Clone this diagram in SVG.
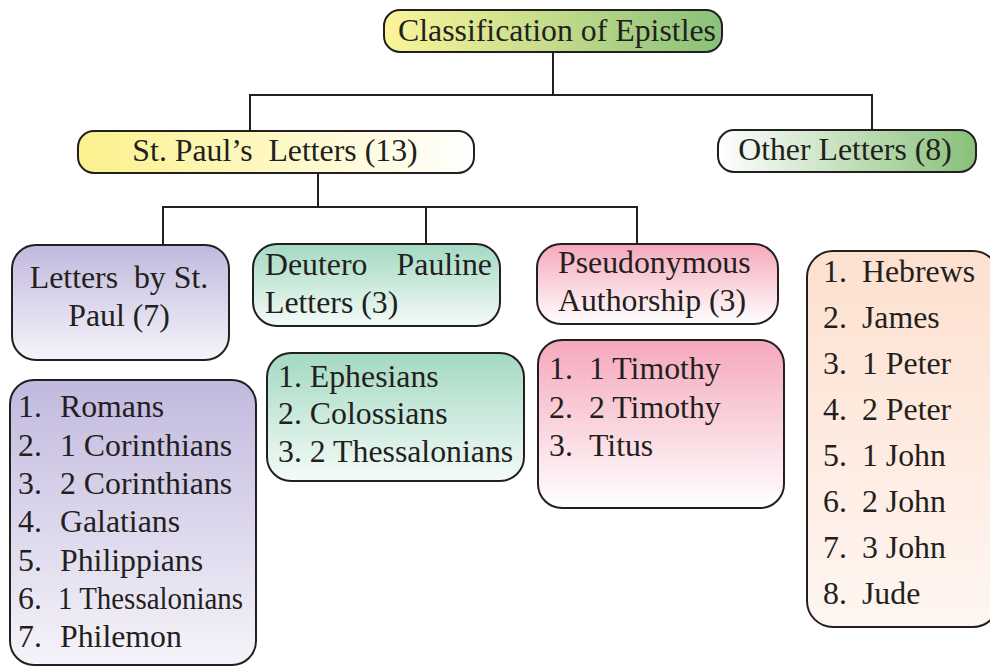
<svg xmlns="http://www.w3.org/2000/svg" width="990" height="667" viewBox="0 0 990 667">
<style>
.box{stroke:#231f20;stroke-width:2}
.t{font-family:"Liberation Serif","Times New Roman",serif;font-size:31.8px;fill:#231f20}
.c{text-anchor:middle}
.e{text-anchor:end}
.conn line{stroke:#231f20;stroke-width:2}
</style>
<defs>
<linearGradient id="gTitle" x1="0" y1="0" x2="1" y2="0"><stop offset="0" stop-color="#fcf59a"/><stop offset="1" stop-color="#89c17a"/></linearGradient>
<linearGradient id="gPaul" x1="0" y1="0" x2="1" y2="0"><stop offset="0" stop-color="#fbf18c"/><stop offset="1" stop-color="#ffffff"/></linearGradient>
<linearGradient id="gOther" x1="0" y1="0" x2="1" y2="0"><stop offset="0" stop-color="#ffffff"/><stop offset="1" stop-color="#88c079"/></linearGradient>
<linearGradient id="gLav" x1="0" y1="0" x2="0" y2="1"><stop offset="0" stop-color="#c1b9de"/><stop offset="1" stop-color="#f6f4fa"/></linearGradient>
<linearGradient id="gGreen" x1="0" y1="0" x2="0" y2="1"><stop offset="0" stop-color="#a3d9c2"/><stop offset="1" stop-color="#f4fbf8"/></linearGradient>
<linearGradient id="gPink" x1="0" y1="0" x2="0" y2="1"><stop offset="0" stop-color="#f5a8bb"/><stop offset="1" stop-color="#ffffff"/></linearGradient>
<linearGradient id="gPeach" x1="0" y1="0" x2="0" y2="1"><stop offset="0" stop-color="#fde0cf"/><stop offset="1" stop-color="#fff6f1"/></linearGradient>
</defs>
<rect width="990" height="667" fill="#ffffff"/>
<g class="conn" id="connectors">
<line x1="553" y1="52" x2="553" y2="95"/>
<line x1="249" y1="95" x2="873" y2="95"/>
<line x1="250" y1="95" x2="250" y2="131"/>
<line x1="872" y1="95" x2="872" y2="130"/>
<line x1="318" y1="173" x2="318" y2="207"/>
<line x1="162" y1="207" x2="638" y2="207"/>
<line x1="163" y1="207" x2="163" y2="245"/>
<line x1="426" y1="207" x2="426" y2="244"/>
<line x1="637" y1="207" x2="637" y2="244"/>
</g>
<g id="title">
<rect class="box" x="384" y="10" width="338" height="42" rx="16" fill="url(#gTitle)"/>
<text class="t c" x="557" y="41">Classification of Epistles</text>
</g>
<g id="stpaul">
<rect class="box" x="78" y="131" width="396" height="42" rx="16" fill="url(#gPaul)"/>
<text class="t c" x="275" y="161" xml:space="preserve">St. Paul’s  Letters (13)</text>
</g>
<g id="other">
<rect class="box" x="718" y="130" width="258" height="42" rx="16" fill="url(#gOther)"/>
<text class="t c" x="845" y="160">Other Letters (8)</text>
</g>
<g id="lettersbypaul">
<rect class="box" x="12" y="245" width="217" height="115" rx="24" fill="url(#gLav)"/>
<text class="t c" x="119" y="288" xml:space="preserve">Letters  by St.</text>
<text class="t c" x="119" y="326">Paul (7)</text>
</g>
<g id="deutero">
<rect class="box" x="253" y="244" width="247" height="82" rx="24" fill="url(#gGreen)"/>
<text class="t" x="265" y="275">Deutero</text>
<text class="t e" x="492" y="275">Pauline</text>
<text class="t" x="265" y="313">Letters (3)</text>
</g>
<g id="pseudo">
<rect class="box" x="537" y="244" width="241" height="80" rx="24" fill="url(#gPink)"/>
<text class="t" x="558" y="273">Pseudonymous</text>
<text class="t" x="558" y="311">Authorship (3)</text>
</g>
<g id="paullist">
<rect class="box" x="10" y="380" width="246" height="285" rx="24" fill="url(#gLav)"/>
<text class="t" x="18" y="417">1.</text><text class="t" x="60" y="417">Romans</text>
<text class="t" x="18" y="456">2.</text><text class="t" x="60" y="456">1 Corinthians</text>
<text class="t" x="18" y="494">3.</text><text class="t" x="60" y="494">2 Corinthians</text>
<text class="t" x="18" y="532">4.</text><text class="t" x="60" y="532">Galatians</text>
<text class="t" x="18" y="571">5.</text><text class="t" x="60" y="571">Philippians</text>
<text class="t" x="18" y="609">6.</text><text class="t" x="58" y="609" textLength="185" lengthAdjust="spacingAndGlyphs">1 Thessalonians</text>
<text class="t" x="18" y="647">7.</text><text class="t" x="60" y="647">Philemon</text>
</g>
<g id="deuterolist">
<rect class="box" x="267" y="353" width="257" height="128" rx="24" fill="url(#gGreen)"/>
<text class="t" x="278" y="387">1. Ephesians</text>
<text class="t" x="278" y="424">2. Colossians</text>
<text class="t" x="278" y="462">3. 2 Thessalonians</text>
</g>
<g id="pseudolist">
<rect class="box" x="538" y="340" width="246" height="168" rx="24" fill="url(#gPink)"/>
<text class="t" x="549" y="379">1.</text><text class="t" x="589" y="379">1 Timothy</text>
<text class="t" x="549" y="418">2.</text><text class="t" x="589" y="418">2 Timothy</text>
<text class="t" x="549" y="456">3.</text><text class="t" x="589" y="456">Titus</text>
</g>
<g id="otherlist">
<rect class="box" x="807" y="251" width="192" height="376" rx="26" fill="url(#gPeach)"/>
<text class="t" x="823" y="282">1.</text><text class="t" x="862" y="282">Hebrews</text>
<text class="t" x="823" y="328">2.</text><text class="t" x="862" y="328">James</text>
<text class="t" x="823" y="374">3.</text><text class="t" x="862" y="374">1 Peter</text>
<text class="t" x="823" y="420">4.</text><text class="t" x="862" y="420">2 Peter</text>
<text class="t" x="823" y="466">5.</text><text class="t" x="862" y="466">1 John</text>
<text class="t" x="823" y="512">6.</text><text class="t" x="862" y="512">2 John</text>
<text class="t" x="823" y="558">7.</text><text class="t" x="862" y="558">3 John</text>
<text class="t" x="823" y="604">8.</text><text class="t" x="862" y="604">Jude</text>
</g>
</svg>
